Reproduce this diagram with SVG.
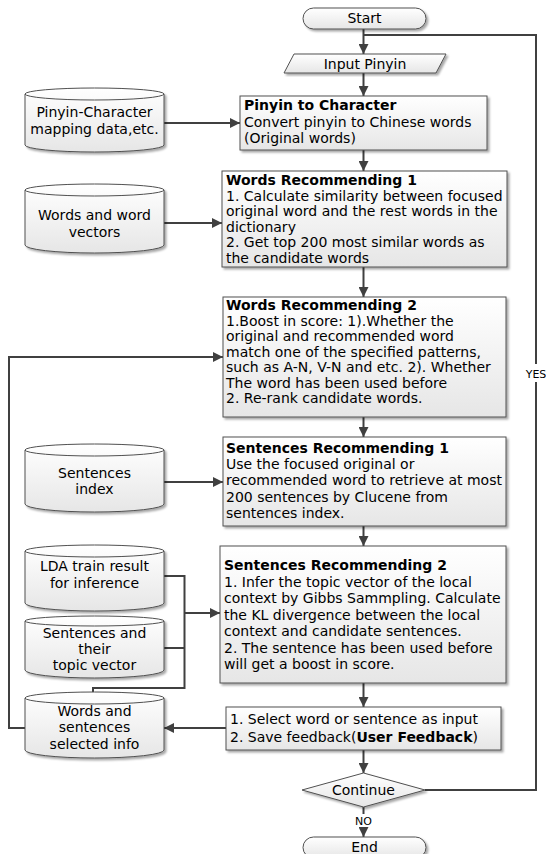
<svg xmlns="http://www.w3.org/2000/svg" width="546" height="854" viewBox="0 0 546 854">
<style>
text{font-family:"DejaVu Sans",Verdana,sans-serif;font-size:14px;fill:#000}
.b{font-weight:bold}
.c{text-anchor:middle}
.sm{font-size:11px}
.shape{fill:url(#g);stroke:#505050;stroke-width:1;filter:url(#sh)}
.ln{fill:none;stroke:#505050;stroke-width:1}
.conn{fill:none;stroke:#404040;stroke-width:2}
.arr{marker-end:url(#ah)}
</style>
<defs>
<linearGradient id="g" x1="0" y1="0" x2="0" y2="1">
<stop offset="0" stop-color="#ffffff"/>
<stop offset="1" stop-color="#e6e6e6"/>
</linearGradient>
<filter id="sh" x="-10%" y="-10%" width="120%" height="130%">
<feDropShadow dx="2" dy="2" stdDeviation="1.2" flood-color="#000" flood-opacity="0.35"/>
</filter>
<marker id="ah" markerUnits="userSpaceOnUse" markerWidth="10" markerHeight="10" viewBox="0 0 10 10" refX="10" refY="5" orient="auto">
<path d="M0,0 L10,5 L0,10 Z" fill="#404040"/>
</marker>
</defs>

<g id="connectors">
<line class="conn arr" x1="363.5" y1="29" x2="363.5" y2="54"/>
<line class="conn arr" x1="363.5" y1="73" x2="363.5" y2="96"/>
<line class="conn arr" x1="363.5" y1="150" x2="363.5" y2="171"/>
<line class="conn arr" x1="363.5" y1="267" x2="363.5" y2="297"/>
<line class="conn arr" x1="363.5" y1="417" x2="363.5" y2="437"/>
<line class="conn arr" x1="363.5" y1="526" x2="363.5" y2="546"/>
<line class="conn arr" x1="363.5" y1="683" x2="363.5" y2="707"/>
<line class="conn arr" x1="363.5" y1="750" x2="363.5" y2="773"/>
<line class="conn" x1="363.5" y1="807" x2="363.5" y2="814"/>
<line class="conn arr" x1="363.5" y1="828" x2="363.5" y2="837"/>
<polyline class="conn" points="425,790 536,790 536,35 363.5,35"/>
<line class="conn arr" x1="164" y1="123" x2="240" y2="123"/>
<line class="conn arr" x1="164" y1="223" x2="222" y2="223"/>
<line class="conn arr" x1="164" y1="482" x2="223" y2="482"/>
<polyline class="conn" points="164,576 184.5,576 184.5,688 93,688 93,693"/>
<line class="conn" x1="164" y1="648" x2="184.5" y2="648"/>
<line class="conn arr" x1="184.5" y1="613" x2="220" y2="613"/>
<line class="conn arr" x1="226" y1="728" x2="164" y2="728"/>
<polyline class="conn arr" points="25,728 9,728 9,357 223,357"/>
<rect x="524" y="364" width="24" height="18" fill="#fff"/>
<text class="sm c" x="536" y="378">YES</text>
<text class="sm c" x="363.5" y="825">NO</text>
</g>

<g id="start">
<rect class="shape" x="303" y="8" width="123" height="21" rx="10.5"/>
<text class="c" x="364.5" y="23">Start</text>
</g>

<g id="input">
<polygon class="shape" points="294,54 446,54 436,73 284,73"/>
<text class="c" x="365" y="68.5">Input Pinyin</text>
</g>

<g id="pinyin-char">
<rect class="shape" x="240" y="96" width="247" height="54"/>
<text class="b" x="244" y="110">Pinyin to Character</text>
<text x="244" y="127">Convert pinyin to Chinese words</text>
<text x="244" y="143">(Original words)</text>
</g>

<g id="db-mapping">
<path class="shape" d="M25,94 A69.5,6 0 0,1 164,94 L164,145 A69.5,7 0 0,1 25,145 Z"/>
<path class="ln" d="M25,94 A69.5,6 0 0,0 164,94"/>
<text class="c" x="94.5" y="117">Pinyin-Character</text>
<text class="c" x="94.5" y="134">mapping data,etc.</text>
</g>

<g id="words-rec-1">
<rect class="shape" x="222" y="171" width="285" height="96"/>
<text class="b" x="226" y="185">Words Recommending 1</text>
<text x="226" y="200.5">1. Calculate similarity between focused</text>
<text x="226" y="216">original word and the rest words in the</text>
<text x="226" y="231.5">dictionary</text>
<text x="226" y="247">2. Get top 200 most similar words as</text>
<text x="226" y="262.5">the candidate words</text>
</g>

<g id="db-wordvec">
<path class="shape" d="M25,190 A69.5,6 0 0,1 164,190 L164,245 A69.5,8 0 0,1 25,245 Z"/>
<path class="ln" d="M25,190 A69.5,6 0 0,0 164,190"/>
<text class="c" x="94.5" y="220">Words and word</text>
<text class="c" x="94.5" y="237">vectors</text>
</g>

<g id="words-rec-2">
<rect class="shape" x="223" y="297" width="283" height="120"/>
<text class="b" x="226" y="310">Words Recommending 2</text>
<text x="226" y="325.5">1.Boost in score: 1).Whether the</text>
<text x="226" y="341">original and recommended word</text>
<text x="226" y="356.5">match one of the specified patterns,</text>
<text x="226" y="372">such as A-N, V-N and etc. 2). Whether</text>
<text x="226" y="387.5">The word has been used before</text>
<text x="226" y="403">2. Re-rank candidate words.</text>
</g>

<g id="db-sent-index">
<path class="shape" d="M25,450 A69.5,6 0 0,1 164,450 L164,504 A69.5,8 0 0,1 25,504 Z"/>
<path class="ln" d="M25,450 A69.5,6 0 0,0 164,450"/>
<text class="c" x="94.5" y="478">Sentences</text>
<text class="c" x="94.5" y="494">index</text>
</g>

<g id="sent-rec-1">
<rect class="shape" x="223" y="437" width="283" height="89"/>
<text class="b" x="226" y="453">Sentences Recommending 1</text>
<text x="226" y="469">Use the focused original or</text>
<text x="226" y="485">recommended word to retrieve at most</text>
<text x="226" y="501.5">200 sentences by Clucene from</text>
<text x="226" y="517.5">sentences index.</text>
</g>

<g id="db-lda">
<path class="shape" d="M25,551 A69.5,6 0 0,1 164,551 L164,603 A69.5,8 0 0,1 25,603 Z"/>
<path class="ln" d="M25,551 A69.5,6 0 0,0 164,551"/>
<text class="c" x="94.5" y="571">LDA train result</text>
<text class="c" x="94.5" y="588">for inference</text>
</g>

<g id="db-sent-topic">
<path class="shape" d="M25,621 A69.5,5 0 0,1 164,621 L164,670 A69.5,8 0 0,1 25,670 Z"/>
<path class="ln" d="M25,621 A69.5,5 0 0,0 164,621"/>
<text class="c" x="94.5" y="638">Sentences and</text>
<text class="c" x="94.5" y="654">their</text>
<text class="c" x="94.5" y="670">topic vector</text>
</g>

<g id="sent-rec-2">
<rect class="shape" x="220" y="546" width="286" height="137"/>
<text class="b" x="224" y="570">Sentences Recommending 2</text>
<text x="224" y="586.5">1. Infer the topic vector of the local</text>
<text x="224" y="603">context by Gibbs Sammpling. Calculate</text>
<text x="224" y="619.5">the KL divergence between the local</text>
<text x="224" y="636">context and candidate sentences.</text>
<text x="224" y="652.5">2. The sentence has been used before</text>
<text x="224" y="669">will get a boost in score.</text>
</g>

<g id="db-selected">
<path class="shape" d="M25,698 A69.5,6 0 0,1 164,698 L164,750 A69.5,8 0 0,1 25,750 Z"/>
<path class="ln" d="M25,698 A69.5,6 0 0,0 164,698"/>
<text class="c" x="94.5" y="716">Words and</text>
<text class="c" x="94.5" y="732">sentences</text>
<text class="c" x="94.5" y="749">selected info</text>
</g>

<g id="select">
<rect class="shape" x="226" y="707" width="275" height="43"/>
<text x="230" y="724">1. Select word or sentence as input</text>
<text x="230" y="742">2. Save feedback(<tspan class="b">User Feedback</tspan>)</text>
</g>

<g id="continue">
<polygon class="shape" points="302,790 363.5,773 425,790 363.5,807"/>
<text class="c" x="363.5" y="795">Continue</text>
</g>

<g id="end">
<rect class="shape" x="303" y="837" width="123" height="21" rx="10.5"/>
<text class="c" x="364.5" y="852">End</text>
</g>
</svg>
